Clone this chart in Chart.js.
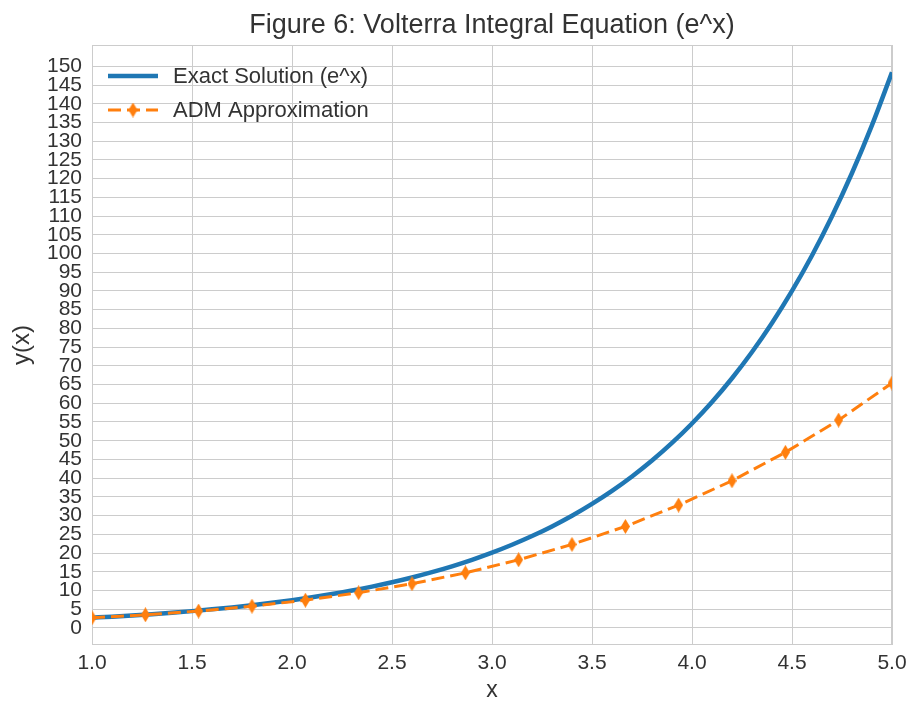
<!DOCTYPE html>
<html>
<head>
<meta charset="utf-8">
<script src="https://cdn.jsdelivr.net/npm/chart.js@4.4.1/dist/chart.umd.min.js"></script>
<style>
  html, body { margin: 0; padding: 0; background: #ffffff; }
  #wrap { width: 909px; height: 702px; }
</style>
</head>
<body>
<div id="wrap"><canvas id="chart" width="909" height="702"></canvas></div>
<script>
// Exact solution y = e^x, sampled every 0.1
const exactX = [1.0, 1.1, 1.2, 1.3, 1.4, 1.5, 1.6, 1.7, 1.8, 1.9,
                2.0, 2.1, 2.2, 2.3, 2.4, 2.5, 2.6, 2.7, 2.8, 2.9,
                3.0, 3.1, 3.2, 3.3, 3.4, 3.5, 3.6, 3.7, 3.8, 3.9,
                4.0, 4.1, 4.2, 4.3, 4.4, 4.5, 4.6, 4.7, 4.8, 4.9, 5.0];
const exactY = [2.72, 3.00, 3.32, 3.67, 4.06, 4.48, 4.95, 5.47, 6.05, 6.69,
                7.39, 8.17, 9.03, 9.97, 11.02, 12.18, 13.46, 14.88, 16.44, 18.17,
                20.09, 22.20, 24.53, 27.11, 29.96, 33.12, 36.60, 40.45, 44.70, 49.40,
                54.60, 60.34, 66.69, 73.70, 81.45, 90.02, 99.48, 109.95, 121.51, 134.29, 148.41];

// ADM approximation at 16 evenly spaced nodes
const admX = [1.000, 1.267, 1.533, 1.800, 2.067, 2.333, 2.600, 2.867,
              3.133, 3.400, 3.667, 3.933, 4.200, 4.467, 4.733, 5.000];
const admY = [2.7, 3.5, 4.5, 5.8, 7.4, 9.4, 11.8, 14.7,
              18.2, 22.3, 27.1, 32.8, 39.3, 46.9, 55.5, 65.4];

// Axis ticks
const xTicks = [1.0, 1.5, 2.0, 2.5, 3.0, 3.5, 4.0, 4.5, 5.0];
const yTicks = [0, 5, 10, 15, 20, 25, 30, 35, 40, 45, 50, 55, 60, 65, 70, 75,
                80, 85, 90, 95, 100, 105, 110, 115, 120, 125, 130, 135, 140, 145, 150];

const TITLE = 'Figure 6: Volterra Integral Equation (e^x)';

const BLUE = '#1f77b4';
const ORANGE = '#ff7f0e';
const TEXT = '#333333';
const GRID = '#cccccc';
const FONT = "'Liberation Sans', Arial, sans-serif";

// Thin diamond marker
function thinDiamond(w, h, color) {
  const c = document.createElement('canvas');
  c.width = w; c.height = h;
  const g = c.getContext('2d');
  g.fillStyle = color;
  g.beginPath();
  g.moveTo(w / 2, 0);
  g.lineTo(w, h / 2);
  g.lineTo(w / 2, h);
  g.lineTo(0, h / 2);
  g.closePath();
  g.fill();
  return c;
}
const diamond = thinDiamond(9, 15, ORANGE);

const pts = (xs, ys) => xs.map((x, i) => ({ x: x, y: ys[i] }));

// Plot frame, title centred over the plot area, and an in-plot legend
const framePlugin = {
  id: 'frame',
  beforeDatasetsDraw(chart) {
    const { ctx, chartArea: a } = chart;
    ctx.save();
    ctx.strokeStyle = GRID;
    ctx.lineWidth = 1;
    ctx.strokeRect(a.left + 0.5, a.top + 0.5, a.right - a.left - 1, a.bottom - a.top - 1);
    ctx.restore();
  },
  afterDatasetsDraw(chart) {
    const { ctx, chartArea: a } = chart;
    const ds = chart.data.datasets;
    const x0 = a.left + 16, len = 50, tx = a.left + 81;
    const rows = [a.top + 31, a.top + 65];
    ctx.save();
    ctx.font = "22px " + FONT;
    ctx.textBaseline = 'alphabetic';
    ctx.textAlign = 'left';
    ds.forEach((d, i) => {
      const y = rows[i];
      ctx.strokeStyle = d.borderColor;
      ctx.lineWidth = d.borderWidth;
      ctx.setLineDash(d.borderDash || []);
      ctx.beginPath();
      ctx.moveTo(x0, y);
      ctx.lineTo(x0 + len, y);
      ctx.stroke();
      ctx.setLineDash([]);
      if (d.pointStyle instanceof HTMLCanvasElement) {
        const p = d.pointStyle;
        ctx.drawImage(p, x0 + len / 2 - p.width / 2, y - p.height / 2);
      }
      ctx.fillStyle = TEXT;
      ctx.fillText(d.label, tx, y + 7);
    });

    ctx.font = "27px " + FONT;
    ctx.textAlign = 'center';
    ctx.fillStyle = TEXT;
    ctx.fillText(TITLE, (a.left + a.right) / 2, 33);
    ctx.restore();
  }
};

new Chart(document.getElementById('chart'), {
  type: 'line',
  data: {
    datasets: [
      {
        label: 'Exact Solution (e^x)',
        data: pts(exactX, exactY),
        borderColor: BLUE,
        borderWidth: 4.5,
        pointRadius: 0,
        cubicInterpolationMode: 'monotone',
        order: 1
      },
      {
        label: 'ADM Approximation',
        data: pts(admX, admY),
        borderColor: ORANGE,
        backgroundColor: ORANGE,
        borderWidth: 3,
        borderDash: [13, 6],
        pointStyle: diamond,
        pointRadius: 7,
        order: 0
      }
    ]
  },
  options: {
    responsive: false,
    animation: false,
    events: [],
    layout: { padding: { left: 0, right: 17, top: 45, bottom: 0 } },
    plugins: {
      legend: { display: false },
      tooltip: { enabled: false },
      title: { display: false }
    },
    scales: {
      x: {
        type: 'linear',
        min: 1.0,
        max: 5.0,
        afterBuildTicks: (axis) => { axis.ticks = xTicks.map(v => ({ value: v })); },
        afterFit: (s) => { s.height = 57; s.paddingLeft = 0; s.paddingRight = 0; },
        ticks: {
          color: TEXT,
          font: { family: FONT, size: 21 },
          padding: 6,
          autoSkip: false,
          maxRotation: 0,
          callback: (v) => v.toFixed(1)
        },
        grid: { color: GRID, lineWidth: 1, drawTicks: false },
        border: { display: false },
        title: {
          display: true,
          text: 'x',
          color: TEXT,
          font: { family: FONT, size: 23, lineHeight: 1 },
          padding: { top: 0, bottom: 0 }
        }
      },
      y: {
        type: 'linear',
        min: -4.57,
        max: 155.7,
        afterBuildTicks: (axis) => { axis.ticks = yTicks.map(v => ({ value: v })); },
        afterFit: (s) => { s.width = 92; s.paddingTop = 0; s.paddingBottom = 0; },
        ticks: {
          color: TEXT,
          font: { family: FONT, size: 21 },
          padding: 10,
          autoSkip: false,
          callback: (v) => String(v)
        },
        grid: { color: GRID, lineWidth: 1, drawTicks: false },
        border: { display: false },
        title: {
          display: true,
          text: 'y(x)',
          color: TEXT,
          font: { family: FONT, size: 24, lineHeight: 1 },
          padding: { top: 10, bottom: 0 }
        }
      }
    }
  },
  plugins: [framePlugin]
});
</script>
</body>
</html>
